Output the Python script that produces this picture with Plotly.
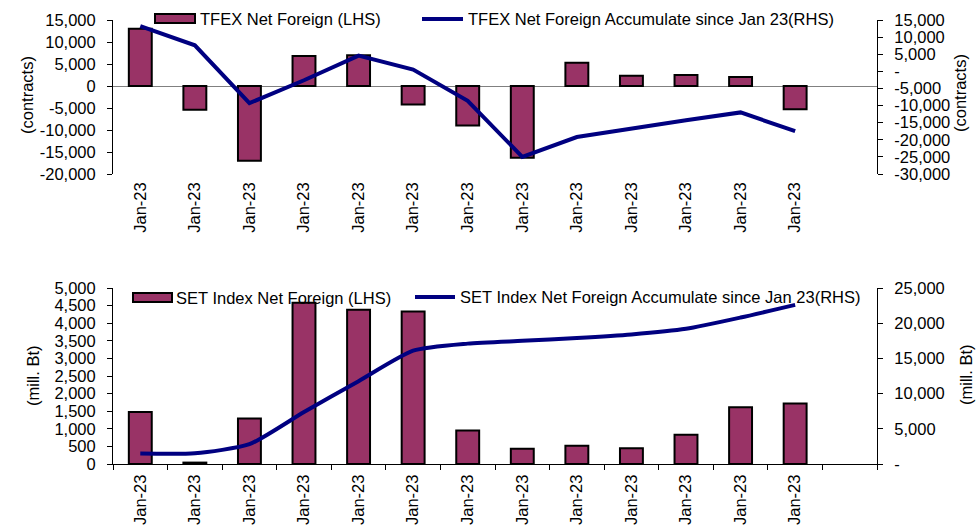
import plotly.graph_objects as go

# ---------------- data ----------------
months = ["Jan-23"] * 13

tfex_net = [13000, -5400, -17000, 6800, 7000, -4200, -9000, -16300, 5300, 2350, 2500, 2050, -5300]
tfex_cum = [13200, 7600, -9300, -2600, 4600, 500, -8600, -25000, -19200, -16700, -14300, -12000, -17500]

set_net = [1480, 40, 1290, 4580, 4380, 4330, 950, 430, 520, 445, 830, 1610, 1720]
set_cum = [1480, 1520, 2810, 7390, 11770, 16100, 17100, 17500, 17900, 18400, 19200, 20800, 22600]

tfex_left_ticks = [15000, 10000, 5000, 0, -5000, -10000, -15000, -20000]
tfex_left_text = ["15,000", "10,000", "5,000", "0", "-5,000", "-10,000", "-15,000", "-20,000"]
tfex_right_ticks = [15000, 10000, 5000, 0, -5000, -10000, -15000, -20000, -25000, -30000]
tfex_right_text = ["15,000", "10,000", "5,000", "-", "-5,000", "-10,000", "-15,000", "-20,000", "-25,000", "-30,000"]
set_left_ticks = [5000, 4500, 4000, 3500, 3000, 2500, 2000, 1500, 1000, 500, 0]
set_left_text = ["5,000", "4,500", "4,000", "3,500", "3,000", "2,500", "2,000", "1,500", "1,000", "500", "0"]
set_right_ticks = [25000, 20000, 15000, 10000, 5000, 0]
set_right_text = ["25,000", "20,000", "15,000", "10,000", "5,000", "-"]

legend_top = ["TFEX Net Foreign (LHS)", "TFEX Net Foreign Accumulate since Jan 23(RHS)"]
legend_bot = ["SET Index Net Foreign (LHS)", "SET Index Net Foreign Accumulate since Jan 23(RHS)"]

# ---------------- styling ----------------
W, H = 977, 527
# plot-area edges in page pixels
X_L, X_R = 113, 877
Y_TOP1, Y_BOT1 = 20, 174
Y_TOP2, Y_BOT2 = 288, 464
ML, MR = X_L, W - X_R
MT, MB = Y_TOP1, H - Y_BOT2
PW, PH = W - ML - MR, H - MT - MB
BAR = "#993366"
LINE = "#000080"
FONT = "Liberation Sans, Arial, sans-serif"
FS = 16.5

def px(x):
    return (x - X_L) / PW

def py(y):
    return (Y_BOT2 - y) / PH

top_dom = [py(Y_BOT1), 1.0]
bot_dom = [0.0, py(Y_TOP2)]
xs = list(range(len(months)))

fig = go.Figure()
fig.add_trace(go.Bar(x=xs, y=tfex_net, width=0.42, marker=dict(color=BAR, line=dict(color="black", width=2)),
                     xaxis="x", yaxis="y", showlegend=False))
fig.add_trace(go.Scatter(x=xs, y=tfex_cum, mode="lines", line=dict(color=LINE, width=4),
                         xaxis="x", yaxis="y2", showlegend=False))
fig.add_trace(go.Bar(x=xs, y=set_net, width=0.42, marker=dict(color=BAR, line=dict(color="black", width=2)),
                     xaxis="x2", yaxis="y3", showlegend=False))
fig.add_trace(go.Scatter(x=xs, y=set_cum, mode="lines", line=dict(color=LINE, width=4, shape="spline", smoothing=0.6),
                         xaxis="x2", yaxis="y4", showlegend=False))

xrange_ = [-0.5, 13.5]
yax_common = dict(showline=True, linecolor="black", linewidth=1, ticks="outside", ticklen=5,
                  tickcolor="black", showgrid=False, tickfont=dict(size=FS, color="black"),
                  ticklabelstandoff=8, automargin=False)

fig.update_layout(
    width=W, height=H, margin=dict(l=ML, r=MR, t=MT, b=MB, autoexpand=False),
    paper_bgcolor="white", plot_bgcolor="white",
    font=dict(family=FONT, size=FS, color="black"),
    barmode="overlay",
    xaxis=dict(domain=[0, 1], anchor="y", range=xrange_, tickmode="array", tickvals=xs, ticktext=months,
               tickangle=-90, ticks="", showline=False, showgrid=False, zeroline=False, automargin=False,
               tickfont=dict(size=FS, color="black"), ticklabelstandoff=4),
    yaxis=dict(domain=top_dom, anchor="x", range=[-20000, 15000], tickmode="array",
               tickvals=tfex_left_ticks, ticktext=tfex_left_text, zeroline=True,
               zerolinecolor="#808080", zerolinewidth=1, **yax_common),
    yaxis2=dict(overlaying="y", side="right", anchor="x", range=[-30000, 15000], tickmode="array",
                tickvals=tfex_right_ticks, ticktext=tfex_right_text, zeroline=False, **yax_common),
    xaxis2=dict(domain=[0, 1], anchor="y3", range=xrange_, tickmode="array", tickvals=xs, ticktext=months,
                tickangle=-90, ticks="", showline=True, linecolor="black", linewidth=1, showgrid=False,
                zeroline=False, automargin=False, tickfont=dict(size=FS, color="black"), ticklabelstandoff=3,
                minor=dict(tick0=-0.5, dtick=1, ticks="outside", ticklen=5, tickcolor="black", showgrid=False)),
    yaxis3=dict(domain=bot_dom, anchor="x2", range=[0, 5000], tickmode="array",
                tickvals=set_left_ticks, ticktext=set_left_text, zeroline=False, **yax_common),
    yaxis4=dict(overlaying="y3", side="right", anchor="x2", range=[0, 25000], tickmode="array",
                tickvals=set_right_ticks, ticktext=set_right_text, zeroline=False, **yax_common),
)

shapes = []
annotations = []

def legend(bar_x0, bar_x1, bar_y0, bar_y1, text1_x, line_x0, line_x1, line_y, text2_x, texts):
    shapes.append(dict(type="rect", xref="paper", yref="paper", x0=px(bar_x0), x1=px(bar_x1),
                       y0=py(bar_y1), y1=py(bar_y0), fillcolor=BAR, line=dict(color="black", width=2)))
    shapes.append(dict(type="line", xref="paper", yref="paper", x0=px(line_x0), x1=px(line_x1),
                       y0=py(line_y), y1=py(line_y), line=dict(color=LINE, width=4)))
    yc = (bar_y0 + bar_y1) / 2
    annotations.append(dict(xref="paper", yref="paper", x=px(text1_x), y=py(yc), text=texts[0],
                            showarrow=False, xanchor="left", yanchor="middle", font=dict(size=FS)))
    annotations.append(dict(xref="paper", yref="paper", x=px(text2_x), y=py(line_y), text=texts[1],
                            showarrow=False, xanchor="left", yanchor="middle", font=dict(size=FS)))

legend(155, 195, 14, 23, 198, 422, 463, 19, 466, legend_top)
legend(133, 172, 293, 302, 174, 415, 455, 297, 458, legend_bot)

def ytitle(x, y, text):
    annotations.append(dict(xref="paper", yref="paper", x=px(x), y=py(y), text=text, showarrow=False,
                            textangle=-90, xanchor="center", yanchor="middle", font=dict(size=FS)))

ytitle(27, 95, "(contracts)")
ytitle(960, 93, "(contracts)")
ytitle(33, 376, "(mill. Bt)")
ytitle(966, 375, "(mill. Bt)")

fig.update_layout(shapes=shapes, annotations=annotations)
fig.write_html(
    "out.html",
    config={"displayModeBar": False},
    post_script="document.body.style.margin='0';document.body.style.overflow='hidden';",
)
